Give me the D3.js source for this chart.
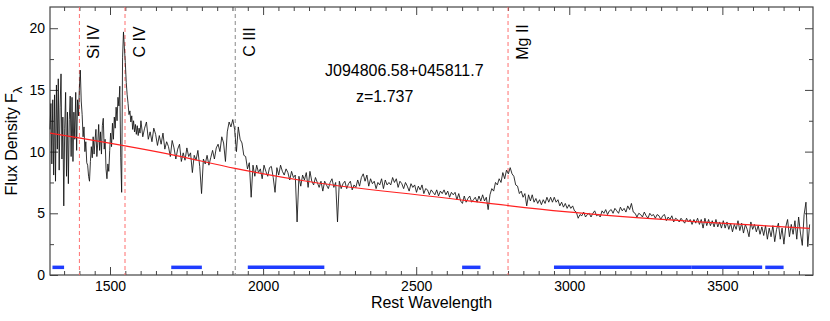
<!DOCTYPE html>
<html>
<head>
<meta charset="utf-8">
<script src="https://cdn.jsdelivr.net/npm/d3@7"></script>
<style>
  body { margin: 0; background: #fff; }
  text { font-family: "Liberation Sans", Arial, Helvetica, sans-serif; }
</style>
</head>
<body>
<svg id="chart" width="830" height="321"></svg>
<script>

// quasar spectrum, rest frame wavelength vs flux density
var objName = "J094806.58+045811.7";
var redshiftLabel = "z=1.737";

// [wavelength, flux]
var spectrum = [
  [1304,11.8],[1307,13.9],[1310,9.0],[1313,14.2],[1316,8.1],[1319,14.6],[1322,7.6],[1325,15.4],
  [1328,10.2],[1331,15.9],[1334,8.5],[1337,13.6],[1340,16.3],[1343,9.4],[1346,12.8],[1349,5.6],
  [1352,11.9],[1355,14.8],[1358,8.0],[1361,13.2],[1364,7.4],[1367,12.6],[1370,14.5],[1373,9.6],
  [1376,14.4],[1379,9.2],[1382,13.2],[1385,11.0],[1388,14.8],[1391,10.1],[1394,14.2],[1397,12.9],
  [1400,15.2],[1403,16.6],[1406,14.1],[1409,13.0],[1412,11.2],[1415,12.0],[1418,10.0],[1421,10.8],
  [1424,9.1],[1427,8.9],[1430,8.0],[1433,7.6],[1436,9.2],[1439,10.4],[1442,9.5],[1445,11.2],
  [1448,9.8],[1451,10.9],[1454,11.8],[1457,9.6],[1460,10.7],[1463,12.2],[1466,10.1],[1469,11.6],
  [1472,9.8],[1475,12.1],[1478,12.7],[1481,10.2],[1484,11.0],[1487,8.6],[1490,7.8],[1493,9.0],
  [1496,8.4],[1499,10.1],[1502,11.5],[1505,10.4],[1508,12.3],[1511,11.0],[1514,12.8],[1517,11.9],
  [1520,13.6],[1523,12.5],[1526,14.4],[1529,13.7],[1532,15.3],[1535,9.5],[1538,6.7],[1541,17.6],
  [1544,19.7],[1547,18.4],[1550,17.2],[1553,15.6],[1556,14.6],[1559,13.9],[1562,13.0],[1565,13.3],
  [1568,12.4],[1571,12.9],[1574,11.8],[1577,12.5],[1580,11.6],[1583,12.2],[1586,11.4],[1589,12.1],
  [1592,11.3],[1595,11.9],[1598,11.5],
  [1601,12.5],[1607,11.2],[1613,11.9],[1619,12.4],[1625,11.0],[1631,11.6],[1637,10.8],[1643,11.9],
  [1649,11.4],[1655,10.5],[1661,11.3],[1667,10.6],[1673,11.5],[1679,10.2],[1685,10.8],[1691,10.4],
  [1697,9.6],[1703,10.9],[1709,10.3],[1715,9.4],[1721,10.2],[1727,10.6],[1733,9.2],[1739,9.9],
  [1745,9.3],[1751,10.3],[1757,9.6],[1763,9.9],[1769,8.3],[1775,9.7],[1781,9.3],[1787,10.1],
  [1793,8.8],[1799,6.6],[1805,9.4],[1811,9.0],[1817,9.7],[1823,8.9],[1829,9.5],[1835,10.1],
  [1841,9.4],[1847,10.3],[1853,10.6],[1859,10.0],[1865,11.2],[1871,10.7],[1877,9.2],[1883,11.6],
  [1889,12.4],[1895,12.0],[1901,12.6],[1907,11.8],[1913,10.0],[1919,12.0],[1925,11.0],[1931,10.7],
  [1937,9.7],[1943,9.6],[1949,8.6],[1955,9.1],[1961,6.3],[1967,8.9],[1973,8.0],[1979,8.9],
  [1985,8.3],[1991,8.6],[1997,7.8],[2003,8.9],[2009,8.4],[2015,8.0],[2021,8.7],[2027,8.8],
  [2033,7.9],[2039,6.7],[2045,8.7],[2051,8.1],[2057,8.9],[2063,8.4],[2069,8.1],[2075,8.6],
  [2081,8.3],[2087,7.7],[2093,8.4],[2099,7.9],[2105,8.1],[2111,4.3],[2117,8.0],[2123,7.2],
  [2129,8.1],[2135,7.7],[2141,8.3],[2147,7.1],[2153,8.4],[2159,7.6],[2165,7.3],[2171,7.9],
  [2177,7.5],[2183,7.1],[2189,7.6],[2195,6.8],[2201,7.6],[2207,7.3],[2213,7.0],[2219,7.5],
  [2225,7.8],[2231,7.1],[2237,7.5],[2243,4.3],[2249,7.6],[2255,7.0],[2261,7.4],[2267,7.6],
  [2273,7.0],[2279,7.4],[2285,7.6],[2291,6.9],[2297,7.3],[2303,7.1],[2309,7.7],[2315,7.2],
  [2321,7.9],[2327,8.2],[2333,7.6],[2339,8.1],[2345,7.2],[2351,7.8],[2357,7.4],[2363,7.6],
  [2369,7.0],[2375,7.5],[2381,7.3],[2387,7.8],[2393,7.0],[2399,7.7],[2405,7.3],[2411,7.5],
  [2417,7.3],[2423,7.9],[2429,7.5],[2435,7.8],[2441,7.1],[2447,7.6],[2453,7.4],[2459,7.0],
  [2465,7.5],[2471,7.2],[2477,6.8],[2483,7.4],[2489,7.1],[2495,7.3],[2501,6.7],[2507,7.2],
  [2513,6.9],[2519,7.3],[2525,6.6],[2531,7.0],[2537,6.9],[2543,6.5],[2549,6.9],[2555,6.7],
  [2561,6.5],[2567,6.9],[2573,6.4],[2579,6.8],[2585,6.6],[2591,6.9],[2597,6.5],[2603,6.8],
  [2609,6.3],[2615,6.7],[2621,6.5],[2627,6.7],[2633,6.1],[2639,6.6],[2645,6.0],[2651,5.8],
  [2657,6.4],[2663,5.9],[2669,6.2],[2675,6.4],[2681,5.9],[2687,6.1],[2693,6.3],[2699,5.9],
  [2705,6.4],[2711,6.0],[2717,6.5],[2723,6.0],[2729,6.3],[2735,5.3],[2741,6.5],[2747,7.0],
  [2753,6.8],[2759,7.5],[2765,7.3],[2771,7.8],[2777,7.5],[2783,8.3],[2789,7.8],[2795,8.5],
  [2801,8.2],[2807,8.7],[2813,8.2],[2819,8.0],[2825,7.3],[2831,7.2],[2837,6.6],[2843,6.8],
  [2849,6.3],[2855,6.6],[2861,5.6],[2867,6.5],[2873,6.0],[2879,6.5],[2885,5.9],[2891,6.2],
  [2897,5.8],[2903,6.1],[2909,5.7],[2915,6.1],[2921,5.8],[2927,6.3],[2933,5.9],[2939,6.3],
  [2945,5.9],[2951,6.3],[2957,5.9],[2963,6.1],[2969,5.6],[2975,5.9],[2981,5.5],[2987,5.8],
  [2993,5.4],[2999,5.7],[3005,5.4],[3011,5.6],[3017,5.2],[3023,5.1],[3029,4.6],[3035,4.9],
  [3041,4.8],[3047,5.1],[3053,4.7],[3059,4.9],[3065,5.0],[3071,4.7],[3077,5.0],[3083,5.2],
  [3089,4.8],[3095,4.9],[3101,4.7],[3107,5.2],[3113,5.0],[3119,5.3],[3125,4.9],[3131,5.2],
  [3137,5.3],[3143,5.0],[3149,5.4],[3155,5.2],[3161,5.0],[3167,5.5],[3173,5.2],[3179,5.4],
  [3185,5.1],[3191,5.6],[3197,5.3],[3203,5.8],[3209,5.1],[3215,5.0],[3221,4.7],[3227,5.0],
  [3233,4.9],[3239,4.7],[3245,5.1],[3251,4.8],[3257,4.6],[3263,5.0],[3269,4.8],[3275,4.9],
  [3281,4.6],[3287,4.9],[3293,4.8],[3299,4.5],[3305,4.8],[3311,4.9],[3317,4.4],[3323,4.7],
  [3329,4.5],[3335,4.8],[3341,4.3],[3347,4.6],[3353,4.5],[3359,4.3],[3365,4.6],[3371,4.4],
  [3377,4.2],[3383,4.6],[3389,4.3],[3395,4.5],[3401,4.1],[3407,4.5],[3413,4.2],[3419,4.6],
  [3425,4.1],[3431,4.5],[3437,3.8],[3443,4.6],[3449,4.0],[3455,4.5],[3461,4.0],[3467,4.4],
  [3473,3.9],[3479,4.5],[3485,3.9],[3491,4.3],[3497,3.8],[3503,4.4],[3509,3.8],[3515,4.3],
  [3521,3.7],[3527,4.2],[3533,3.5],[3539,4.1],[3545,3.7],[3551,4.4],[3557,3.6],[3563,4.2],
  [3569,3.4],[3575,4.1],[3581,3.7],[3587,3.1],[3593,4.3],[3599,3.7],[3605,4.1],[3611,3.5],
  [3617,4.0],[3623,3.3],[3629,3.9],[3635,3.2],[3641,4.0],[3647,2.9],[3653,3.8],[3659,3.1],
  [3665,4.0],[3671,2.7],[3677,3.7],[3683,4.2],[3689,2.9],[3695,3.8],[3701,2.5],[3707,3.9],
  [3713,4.5],[3719,3.1],[3725,4.1],[3731,3.3],[3737,4.4],[3743,2.9],[3749,4.7],[3755,3.4],
  [3761,2.4],[3767,4.9],[3773,5.9],[3779,2.3],[3785,4.1]
];

// continuum fit (red line)
var continuum = [
  [1304,11.5],[1712,9.7],[1908,8.64],[2153,7.56],[2561,6.34],[2985,5.13],[3410,4.32],[3785,3.78]
];

// emission line markers
var lineNames = ["Si IV", "C IV", "C III", "Mg II"];
var lineWaves = [1400, 1549, 1909, 2800];

// continuum fitting windows (blue bars)
var fitWindows = [[1312,1350],[1700,1800],[1950,2200],[2650,2710],[2950,3400],[3400,3630],[3640,3700]];
var windowLevel = 0.62;

var xTicks = [1500, 2000, 2500, 3000, 3500];
var yTicks = [0, 5, 10, 15, 20];

var margin = {top: 7, left: 50, right: 17, bottom: 46};
var width = 830, height = 321;
var innerW = width - margin.left - margin.right;
var innerH = height - margin.top - margin.bottom;

var svg = d3.select("#chart");
var g = svg.append("g")
    .attr("transform", "translate(" + margin.left + "," + margin.top + ")");

var x = d3.scaleLinear().domain([1304, 3796]).range([0, innerW]);
var y = d3.scaleLinear().domain([0, 21.72]).range([innerH, 0]);

var frameColor = "#444";

// minor ticks every 50 A / 2.5 units
var xMinor = d3.range(1350, 3796, 50).filter(function(v) { return v % 500 !== 0; });
var yMinor = [2.5, 7.5, 12.5, 17.5];

function styleAxis(sel) {
    sel.select(".domain").remove();
    sel.selectAll(".tick line").attr("stroke", frameColor);
    sel.selectAll(".tick text")
        .attr("fill", "#000")
        .style("font-size", "14px")
        .style("font-family", "'Liberation Sans', Arial, sans-serif");
}

// bottom
g.append("g").attr("transform", "translate(0," + innerH + ")")
    .call(d3.axisBottom(x).tickValues(xTicks).tickSize(-8).tickPadding(6).tickFormat(d3.format("d")))
    .call(styleAxis);
g.append("g").attr("transform", "translate(0," + innerH + ")")
    .call(d3.axisBottom(x).tickValues(xMinor).tickSize(-4).tickFormat(""))
    .call(styleAxis);
// top
g.append("g")
    .call(d3.axisTop(x).tickValues(xTicks).tickSize(-8).tickFormat(""))
    .call(styleAxis);
g.append("g")
    .call(d3.axisTop(x).tickValues(xMinor).tickSize(-4).tickFormat(""))
    .call(styleAxis);
// left
g.append("g")
    .call(d3.axisLeft(y).tickValues(yTicks).tickSize(-8).tickPadding(5))
    .call(styleAxis);
g.append("g")
    .call(d3.axisLeft(y).tickValues(yMinor).tickSize(-4).tickFormat(""))
    .call(styleAxis);
// right
g.append("g").attr("transform", "translate(" + innerW + ",0)")
    .call(d3.axisRight(y).tickValues(yTicks).tickSize(-8).tickFormat(""))
    .call(styleAxis);
g.append("g").attr("transform", "translate(" + innerW + ",0)")
    .call(d3.axisRight(y).tickValues(yMinor).tickSize(-4).tickFormat(""))
    .call(styleAxis);

g.append("rect")
    .attr("width", innerW)
    .attr("height", innerH)
    .attr("fill", "none")
    .attr("stroke", frameColor)
    .attr("stroke-width", 1.2);

// fitting windows
g.selectAll(".win")
    .data(fitWindows)
    .enter().append("line")
        .attr("class", "win")
        .attr("x1", function(d) { return x(d[0]); })
        .attr("x2", function(d) { return x(d[1]); })
        .attr("y1", y(windowLevel))
        .attr("y2", y(windowLevel))
        .attr("stroke", "#1f3cff")
        .attr("stroke-width", 3.5);

// dashed emission line markers
g.selectAll(".emline")
    .data(lineWaves)
    .enter().append("line")
        .attr("class", "emline")
        .attr("x1", function(d) { return x(d); })
        .attr("x2", function(d) { return x(d); })
        .attr("y1", 0)
        .attr("y2", innerH)
        .attr("stroke", function(d, i) { return lineNames[i] === "C III" ? "#888" : "#ff6f6f"; })
        .attr("stroke-width", 1)
        .attr("stroke-dasharray", "4,3");

var spectrumLine = d3.line()
    .x(function(d) { return x(d[0]); })
    .y(function(d) { return y(d[1]); });

g.append("path")
    .datum(spectrum)
    .attr("d", spectrumLine)
    .attr("fill", "none")
    .attr("stroke", "#111")
    .attr("stroke-width", 0.85)
    .attr("stroke-linejoin", "round");

g.append("path")
    .datum(continuum)
    .attr("d", spectrumLine.curve(d3.curveMonotoneX))
    .attr("fill", "none")
    .attr("stroke", "#ff2020")
    .attr("stroke-width", 1.2);

// rotated line labels
g.selectAll(".emlabel")
    .data(lineWaves)
    .enter().append("text")
        .attr("class", "emlabel")
        .attr("transform", function(d) { return "translate(" + (x(d) + 20) + ",35) rotate(-90)"; })
        .attr("text-anchor", "middle")
        .style("font-size", "16px")
        .text(function(d, i) { return lineNames[i]; });

// object name and redshift
g.append("text")
    .attr("x", 275).attr("y", 69)
    .style("font-size", "16px")
    .text(objName);
g.append("text")
    .attr("x", 306).attr("y", 95)
    .style("font-size", "16px")
    .text(redshiftLabel);

// axis titles
svg.append("text")
    .attr("x", margin.left + innerW / 2)
    .attr("y", 308)
    .attr("text-anchor", "middle")
    .style("font-size", "16px")
    .text("Rest Wavelength");

var yt = svg.append("text")
    .attr("transform", "translate(17," + (margin.top + innerH / 2) + ") rotate(-90)")
    .attr("text-anchor", "middle")
    .style("font-size", "16px");
yt.append("tspan").text("Flux Density  F");
yt.append("tspan").attr("dy", 5).style("font-size", "13px").text("\u03bb");

</script>
</body>
</html>
